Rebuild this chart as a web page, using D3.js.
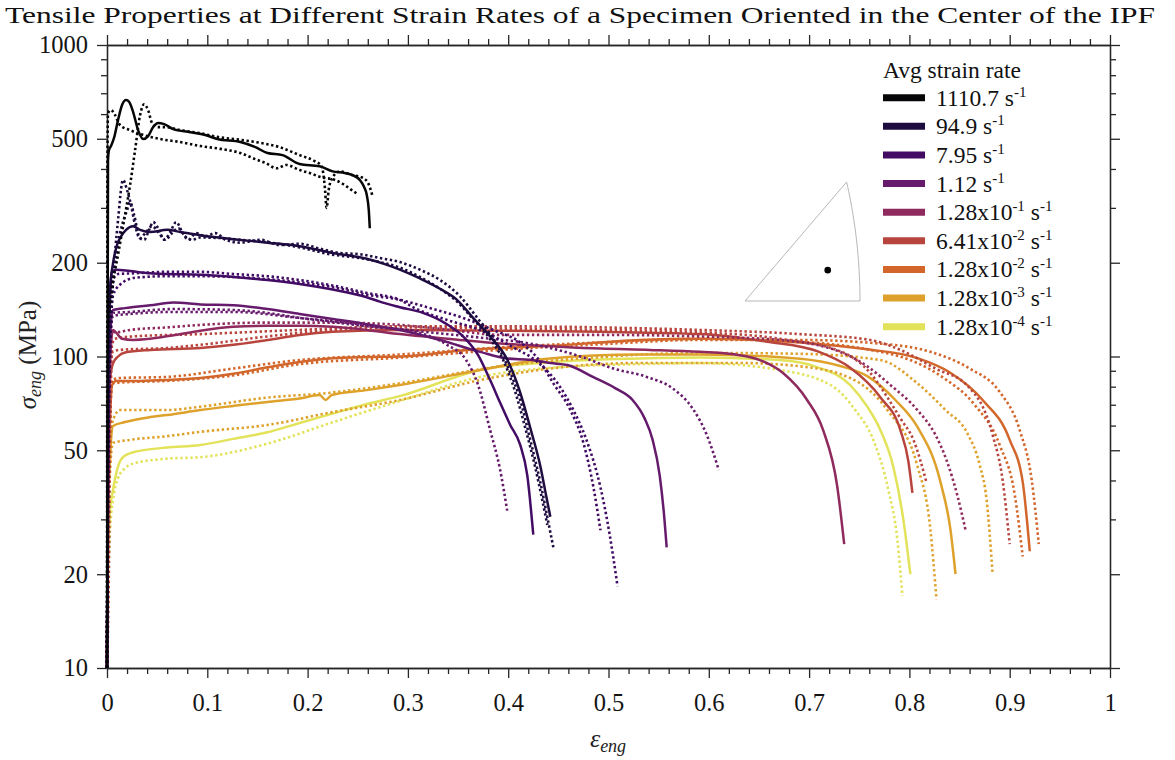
<!DOCTYPE html>
<html>
<head>
<meta charset="utf-8">
<script src="https://cdn.jsdelivr.net/npm/d3@7"></script>
<style>
  html, body { margin: 0; padding: 0; background: #fff; }
  svg { display: block; }
</style>
</head>
<body>
<svg id="chart" width="1175" height="760"></svg>
<script>
// ---- Strain-rate groups (legend order) ----
const rateMantissa = ["1110.7", "94.9", "7.95", "1.12", "1.28", "6.41", "1.28", "1.28", "1.28"];
const rateExponent = [null, null, null, null, "-1", "-2", "-2", "-3", "-4"];
const rateColors = ["#060608", "#1e0c40", "#420b64", "#661a6c", "#8f2a5e", "#b8453d", "#d2662b", "#dea22c", "#e3e35b"];

// ---- Axis ticks ----
const xMajorTicks = [0, 0.1, 0.2, 0.3, 0.4, 0.5, 0.6, 0.7, 0.8, 0.9, 1];
const yMajorTicks = [10, 20, 50, 100, 200, 500, 1000];
const yMinorTicks = [30, 40, 60, 70, 80, 90, 300, 400, 600, 700, 800, 900];

// ---- Engineering stress-strain curves, [strain, stress (MPa)] ----
// 1110.7 s^-1
const r1110_solid = [[0,10],[0.001,427],[0.002,460],[0.004,474],[0.007,503],[0.011,574],[0.015,642],[0.019,666],[0.022,657],[0.026,610],[0.031,533],[0.036,499],[0.041,510],[0.046,545],[0.051,562],[0.057,557],[0.066,537],[0.083,525],[0.098,514],[0.110,499],[0.133,488],[0.148,470],[0.160,450],[0.175,443],[0.192,415],[0.212,408],[0.225,393],[0.237,388],[0.245,382],[0.252,369],[0.256,352],[0.259,330],[0.261,295],[0.262,258]];
const r1110_testB = [[0,10],[0.0005,460],[0.001,604],[0.004,618],[0.008,596],[0.013,553],[0.023,533],[0.033,518],[0.053,499],[0.073,488],[0.093,474],[0.113,464],[0.133,450],[0.148,430],[0.158,418],[0.169,402],[0.179,412],[0.192,397],[0.202,388],[0.214,376],[0.227,369],[0.237,355],[0.244,342],[0.250,332]];
const r1110_testC = [[0,10],[0.001,122],[0.005,164],[0.011,212],[0.018,285],[0.023,355],[0.028,460],[0.033,596],[0.037,645],[0.041,618],[0.045,561],[0.051,545],[0.058,545],[0.073,533],[0.093,521],[0.110,507],[0.133,496],[0.153,485],[0.172,470],[0.192,443],[0.207,424],[0.214,408],[0.217,355],[0.219,300],[0.221,342],[0.225,376],[0.232,393],[0.245,382],[0.254,376],[0.260,362],[0.265,325]];

// 94.9 s^-1
const r949_solid = [[0,10],[0.001,72.5],[0.003,164],[0.006,199],[0.010,228],[0.013,240],[0.019,255],[0.026,262],[0.033,255],[0.043,251],[0.060,255],[0.073,251],[0.093,245],[0.126,238],[0.160,232],[0.192,226],[0.225,215],[0.259,206],[0.277,198],[0.292,190],[0.312,178],[0.332,165],[0.349,152],[0.365,133],[0.382,116],[0.399,97.8],[0.412,76.6],[0.422,59],[0.432,44.5],[0.438,35.5],[0.442,30.6]];
const r949_testB = [[0,10],[0.002,105],[0.006,176],[0.011,274],[0.016,369],[0.020,342],[0.024,306],[0.028,264],[0.032,241],[0.037,237],[0.042,255],[0.046,270],[0.051,258],[0.057,237],[0.063,251],[0.069,270],[0.075,251],[0.081,237],[0.089,249],[0.098,243],[0.108,249],[0.118,237],[0.133,232],[0.153,237],[0.172,228],[0.192,230],[0.212,222],[0.232,215],[0.252,213],[0.272,207],[0.292,201],[0.312,190],[0.332,176],[0.352,156],[0.370,132],[0.386,113],[0.400,92],[0.412,72.5],[0.422,54],[0.432,39.5],[0.439,30.5],[0.445,24.4]];
const r949_testC = [[0,10],[0.002,72.5],[0.005,152],[0.010,220],[0.015,264],[0.020,295],[0.023,313],[0.027,285],[0.033,240],[0.039,251],[0.045,262],[0.051,251],[0.058,237],[0.065,249],[0.071,258],[0.078,243],[0.085,237],[0.093,241],[0.113,240],[0.133,237],[0.163,232],[0.192,224],[0.222,213],[0.252,207],[0.272,201],[0.292,193],[0.312,180],[0.332,165],[0.349,150],[0.364,133],[0.380,116],[0.395,97.4],[0.407,77],[0.417,59],[0.427,44],[0.434,34.6],[0.439,28.8]];

// 7.95 s^-1
const r795_solid = [[0,10],[0.001,62.5],[0.003,152],[0.005,187],[0.009,190],[0.023,188],[0.043,185],[0.060,184],[0.093,183],[0.126,180],[0.160,176],[0.192,171],[0.225,164],[0.259,155],[0.272,150],[0.292,144],[0.315,138],[0.337,128],[0.355,116],[0.370,101],[0.382,84],[0.392,71],[0.402,60.3],[0.412,52],[0.419,41.6],[0.425,26.8]];
const r795_testB = [[0,10],[0.001,50],[0.003,122],[0.006,176],[0.011,184],[0.028,185],[0.060,187],[0.093,187],[0.126,184],[0.160,181],[0.192,176],[0.225,169],[0.259,160],[0.292,152],[0.305,144],[0.339,131],[0.372,121.7],[0.405,107],[0.431,95],[0.451,80.5],[0.465,67.3],[0.478,54],[0.492,38],[0.501,27],[0.509,18.3]];
const r795_testC = [[0,10],[0.001,50],[0.003,105],[0.006,157],[0.013,170],[0.028,179],[0.060,181],[0.093,181],[0.126,180],[0.160,177],[0.192,173],[0.225,167],[0.259,158],[0.292,152],[0.322,143],[0.355,133],[0.385,121.7],[0.412,111],[0.429,99],[0.445,82],[0.462,67.3],[0.475,52.8],[0.485,38],[0.492,27.7]];

// 1.12 s^-1
const r112_solid = [[0,10],[0.001,50],[0.003,113],[0.006,141],[0.018,143],[0.043,146],[0.066,149],[0.093,147],[0.126,146],[0.160,142],[0.192,137],[0.225,132],[0.259,127],[0.292,121.7],[0.332,113],[0.372,103.5],[0.399,98.5],[0.422,97.6],[0.442,95.3],[0.459,93.9],[0.485,85.8],[0.507,79],[0.524,72.5],[0.536,63.3],[0.544,54],[0.551,41.6],[0.555,32],[0.558,24.4]];
const r112_testB = [[0,10],[0.001,50],[0.003,109],[0.006,138],[0.023,139],[0.066,142],[0.126,141],[0.160,138],[0.192,133],[0.225,129],[0.259,125],[0.292,122.5],[0.322,119.5],[0.372,115],[0.422,110],[0.472,100],[0.505,91.5],[0.538,86],[0.564,79],[0.584,68],[0.598,56],[0.610,43.2]];
const r112_testC = [[0,10],[0.001,50],[0.003,109],[0.006,135],[0.023,137],[0.066,139],[0.126,139],[0.192,133],[0.242,128],[0.272,124],[0.305,120.5],[0.339,109],[0.358,97.4],[0.370,81],[0.382,58],[0.392,43.2],[0.399,32]];

// 1.28x10^-1 s^-1
const r128e1_solid = [[0,10],[0.002,62.5],[0.004,109],[0.006,121.7],[0.009,119.5],[0.015,114],[0.026,113],[0.043,114],[0.068,117.3],[0.093,121],[0.126,124.5],[0.160,125.5],[0.192,125.5],[0.225,124.5],[0.259,121.7],[0.292,118],[0.342,113.8],[0.392,110],[0.439,108],[0.492,106],[0.541,105],[0.591,103.5],[0.631,101],[0.651,97.4],[0.674,88.5],[0.698,72.5],[0.714,58],[0.728,38.4],[0.735,25]];
const r128e1_testB = [[0,10],[0.001,50],[0.003,97.4],[0.005,121.7],[0.008,119.5],[0.023,121.7],[0.060,124],[0.093,126.3],[0.160,128.5],[0.225,128.5],[0.292,126.3],[0.342,121.7],[0.392,117.3],[0.492,117.3],[0.591,116],[0.671,113],[0.731,103.5],[0.758,93],[0.781,81],[0.808,67.3],[0.826,56],[0.837,46.5],[0.848,35.6],[0.856,27.7]];

// 6.41x10^-2 s^-1
const r641e2_solid = [[0,10],[0.001,50],[0.003,84],[0.006,95],[0.011,100],[0.018,103],[0.043,105],[0.093,106.5],[0.126,109],[0.160,113],[0.192,117.3],[0.225,120],[0.292,121.7],[0.392,121],[0.492,120],[0.591,118],[0.658,111.5],[0.708,104],[0.741,92],[0.771,74],[0.791,58],[0.799,46],[0.803,36.5]];
const r641e2_testB = [[0,10],[0.001,50],[0.003,84],[0.006,104],[0.013,105],[0.060,106.5],[0.093,109],[0.160,116],[0.225,121.7],[0.292,124],[0.392,123],[0.492,121.7],[0.591,119.5],[0.671,114],[0.734,103],[0.761,88.5],[0.778,74],[0.791,63.3],[0.804,54],[0.817,39.5]];
const r641e2_testC = [[0,10],[0.002,22.2],[0.003,50],[0.004,84],[0.005,109],[0.008,114],[0.026,116],[0.093,118],[0.192,121.7],[0.292,125],[0.392,125],[0.492,124],[0.591,121.7],[0.691,118],[0.761,113],[0.791,105],[0.826,91.5],[0.858,80.5],[0.883,56],[0.893,40],[0.900,25]];

// 1.28x10^-2 s^-1
const r128e2_solid = [[0,10],[0.001,34.6],[0.003,62.5],[0.005,81],[0.009,83.5],[0.033,83.5],[0.060,84],[0.093,85.3],[0.126,88],[0.160,92.3],[0.192,96],[0.225,98.8],[0.259,99.6],[0.292,100],[0.359,105],[0.439,108],[0.531,113],[0.591,114],[0.691,111],[0.758,105.5],[0.808,98.8],[0.840,89],[0.873,72.5],[0.900,54],[0.913,39.5],[0.920,23.7]];
const r128e2_testB = [[0,10],[0.001,34.6],[0.003,62.5],[0.005,84],[0.013,85.3],[0.060,86],[0.126,91.5],[0.192,97.4],[0.292,101.5],[0.392,107],[0.492,111],[0.591,114],[0.691,111.5],[0.761,105],[0.801,97.4],[0.835,85],[0.865,70],[0.890,52],[0.905,36],[0.913,22.8]];
const r128e2_testC = [[0,10],[0.001,34.6],[0.003,62.5],[0.005,82],[0.013,82.5],[0.060,83.5],[0.126,87],[0.192,94.5],[0.292,99.2],[0.392,105],[0.492,109.5],[0.591,113],[0.691,113],[0.771,110],[0.821,103.5],[0.860,91.5],[0.890,77],[0.910,58],[0.922,40],[0.929,25]];

// 1.28x10^-3 s^-1
const r128e3_solid = [[0,10],[0.001,29.9],[0.003,46.5],[0.006,59.8],[0.018,61.6],[0.043,63.9],[0.060,64.9],[0.093,67.3],[0.126,69.4],[0.160,71.5],[0.192,73.3],[0.212,75.2],[0.218,72.5],[0.224,75.2],[0.259,78],[0.292,81],[0.372,90.5],[0.439,98.4],[0.531,101.5],[0.591,101.5],[0.691,98.4],[0.731,93.2],[0.758,86.5],[0.786,72.5],[0.808,59.4],[0.831,39.5],[0.841,27.7],[0.846,20]];
const r128e3_testB = [[0,10],[0.001,29.9],[0.003,50],[0.006,62.5],[0.013,67.3],[0.060,67.3],[0.093,69],[0.160,73.8],[0.219,76.3],[0.292,82],[0.392,93],[0.492,99.6],[0.591,102.7],[0.691,102],[0.771,97.4],[0.808,82],[0.836,67.3],[0.858,56.5],[0.870,45],[0.877,34.6],[0.883,20]];
const r128e3_testC = [[0,10],[0.001,25.7],[0.003,43.2],[0.006,52.8],[0.023,54],[0.060,55.5],[0.093,57.3],[0.160,60.3],[0.225,66.3],[0.292,72.5],[0.372,84],[0.442,91.5],[0.531,95.3],[0.631,95.3],[0.691,93],[0.741,85.3],[0.778,67.3],[0.808,44.5],[0.821,27.7],[0.827,16.6]];

// 1.28x10^-4 s^-1
const r128e4_solid = [[0,10],[0.001,22.2],[0.003,32.1],[0.006,37.3],[0.010,43.2],[0.015,47.2],[0.026,49.3],[0.060,51],[0.093,52],[0.126,54.4],[0.160,57.1],[0.192,61.2],[0.225,65.6],[0.259,70.4],[0.292,74.6],[0.372,90.5],[0.455,96.5],[0.531,98.5],[0.591,99.2],[0.671,97.4],[0.708,92.5],[0.741,81],[0.758,69],[0.771,58.1],[0.784,44.2],[0.794,29.9],[0.801,20]];
const r128e4_testB = [[0,10],[0.001,16.5],[0.003,27.7],[0.006,34.6],[0.011,40.7],[0.018,43.8],[0.026,45.3],[0.060,47],[0.093,47.5],[0.160,52.5],[0.225,61.5],[0.292,72],[0.372,86],[0.452,92.5],[0.531,94.5],[0.591,95.2],[0.671,90.5],[0.724,80],[0.746,67.3],[0.764,54],[0.779,37.3],[0.788,25.8],[0.793,17]];

// One entry per test: strain-rate group index, line style, curve
const tests = [
  { rate: 0, dotted: false, values: r1110_solid },
  { rate: 0, dotted: true,  values: r1110_testB },
  { rate: 0, dotted: true,  values: r1110_testC },
  { rate: 1, dotted: false, values: r949_solid },
  { rate: 1, dotted: true,  values: r949_testB },
  { rate: 1, dotted: true,  values: r949_testC },
  { rate: 2, dotted: false, values: r795_solid },
  { rate: 2, dotted: true,  values: r795_testB },
  { rate: 2, dotted: true,  values: r795_testC },
  { rate: 3, dotted: false, values: r112_solid },
  { rate: 3, dotted: true,  values: r112_testB },
  { rate: 3, dotted: true,  values: r112_testC },
  { rate: 4, dotted: false, values: r128e1_solid },
  { rate: 4, dotted: true,  values: r128e1_testB },
  { rate: 5, dotted: false, values: r641e2_solid },
  { rate: 5, dotted: true,  values: r641e2_testB },
  { rate: 5, dotted: true,  values: r641e2_testC },
  { rate: 6, dotted: false, values: r128e2_solid },
  { rate: 6, dotted: true,  values: r128e2_testB },
  { rate: 6, dotted: true,  values: r128e2_testC },
  { rate: 7, dotted: false, values: r128e3_solid },
  { rate: 7, dotted: true,  values: r128e3_testB },
  { rate: 7, dotted: true,  values: r128e3_testC },
  { rate: 8, dotted: false, values: r128e4_solid },
  { rate: 8, dotted: true,  values: r128e4_testB }
];

// Inverse pole figure inset: standard triangle corners and specimen direction
const ipfCorners = [[0, 0, 1], [1, 0, 1], [1, 1, 1]];
const specimenDirection = [0.543, 0.173, 0.822];

// ---- Layout ----
const svg = d3.select("#chart");
const serif = "'Liberation Serif', 'Times New Roman', serif";
const axisColor = "#262626";

const x = d3.scaleLinear().domain([0, 1]).range([107, 1110]);
const y = d3.scaleLog().domain([10, 1000]).range([668, 45]);

const xMinorTicks = d3.range(0, 1.0001, 0.02).filter(v => Math.abs(v * 10 - Math.round(v * 10)) > 1e-6);

function styleAxis(g) {
  g.select(".domain").attr("stroke", axisColor).attr("stroke-width", 1.3);
  g.selectAll(".tick line").attr("stroke", axisColor).attr("stroke-width", 1.3);
  g.selectAll(".tick text").attr("font-family", serif).attr("font-size", 24.5).attr("fill", "#141414");
}

// Title
svg.append("text")
  .attr("x", 5).attr("y", 23)
  .attr("font-family", serif).attr("font-size", 24).attr("fill", "#111")
  .attr("textLength", 1150).attr("lengthAdjust", "spacingAndGlyphs")
  .text("Tensile Properties at Different Strain Rates of a Specimen Oriented in the Center of the IPF");

// Axes (ticks outward on all four sides)
svg.append("g").attr("transform", "translate(0,668)")
  .call(d3.axisBottom(x).tickValues(xMajorTicks).tickFormat(d => String(d)).tickSize(10).tickSizeOuter(0).tickPadding(16))
  .call(styleAxis);
svg.append("g").attr("transform", "translate(0,668)")
  .call(d3.axisBottom(x).tickValues(xMinorTicks).tickFormat("").tickSize(6).tickSizeOuter(0))
  .call(styleAxis);
svg.append("g").attr("transform", "translate(0,45)")
  .call(d3.axisTop(x).tickValues(xMajorTicks).tickFormat("").tickSize(10).tickSizeOuter(0))
  .call(styleAxis);
svg.append("g").attr("transform", "translate(0,45)")
  .call(d3.axisTop(x).tickValues(xMinorTicks).tickFormat("").tickSize(6).tickSizeOuter(0))
  .call(styleAxis);
svg.append("g").attr("transform", "translate(107,0)")
  .call(d3.axisLeft(y).tickValues(yMajorTicks).tickFormat(d => String(d)).tickSize(10).tickSizeOuter(0).tickPadding(9))
  .call(styleAxis);
svg.append("g").attr("transform", "translate(107,0)")
  .call(d3.axisLeft(y).tickValues(yMinorTicks).tickFormat("").tickSize(6).tickSizeOuter(0))
  .call(styleAxis);
svg.append("g").attr("transform", "translate(1110,0)")
  .call(d3.axisRight(y).tickValues(yMajorTicks).tickFormat("").tickSize(10).tickSizeOuter(0))
  .call(styleAxis);
svg.append("g").attr("transform", "translate(1110,0)")
  .call(d3.axisRight(y).tickValues(yMinorTicks).tickFormat("").tickSize(6).tickSizeOuter(0))
  .call(styleAxis);

// Axis labels
const xLabel = svg.append("text")
  .attr("x", 608).attr("y", 747).attr("text-anchor", "middle")
  .attr("font-family", serif).attr("font-size", 26).attr("fill", "#222");
xLabel.append("tspan").attr("font-style", "italic").text("ε");
xLabel.append("tspan").attr("font-style", "italic").attr("font-size", 18).attr("dy", 5).text("eng");

const yLabel = svg.append("text")
  .attr("transform", "translate(36,355) rotate(-90)").attr("text-anchor", "middle")
  .attr("font-family", serif).attr("font-size", 25).attr("fill", "#222");
yLabel.append("tspan").attr("font-style", "italic").text("σ");
yLabel.append("tspan").attr("font-style", "italic").attr("font-size", 18).attr("dy", 5).text("eng");
yLabel.append("tspan").attr("dy", -5).text(" (MPa)");

// Curves: slowest rate drawn first so the darker curves sit on top
const line = d3.line()
  .x(d => x(d[0]))
  .y(d => y(d[1]))
  .curve(d3.curveMonotoneX);

const ordered = tests.slice().sort((a, b) => (b.rate - a.rate) || (b.dotted - a.dotted));
svg.append("g").attr("fill", "none")
  .selectAll("path")
  .data(ordered)
  .join("path")
  .attr("d", d => line(d.values))
  .attr("stroke", d => rateColors[d.rate])
  .attr("stroke-width", d => d.dotted ? 2.6 : 2.5)
  .attr("stroke-dasharray", d => d.dotted ? "2.4,2.6" : null)
  .attr("stroke-linejoin", "round");

// Inverse pole figure inset (stereographic projection)
const stereo = v => {
  const n = Math.hypot(v[0], v[1], v[2]);
  return [v[0] / n / (1 + v[2] / n), v[1] / n / (1 + v[2] / n)];
};
const ipfX = d3.scaleLinear().domain([0, stereo(ipfCorners[1])[0]]).range([745, 860]);
const ipfY = d3.scaleLinear().domain([0, stereo(ipfCorners[2])[1]]).range([301, 182]);
const arc = d3.range(0, 1.0001, 0.05).map(t => stereo([1, t, 1]));
const outline = [stereo(ipfCorners[0]), ...arc, stereo(ipfCorners[0])];
svg.append("path")
  .attr("d", d3.line().x(p => ipfX(p[0])).y(p => ipfY(p[1]))(outline))
  .attr("fill", "none").attr("stroke", "#b8b8b8").attr("stroke-width", 1);
const sp = stereo(specimenDirection);
svg.append("circle").attr("cx", ipfX(sp[0])).attr("cy", ipfY(sp[1])).attr("r", 3.3).attr("fill", "#000");

// Legend
const legend = svg.append("g").attr("font-family", serif).attr("fill", "#111");
legend.append("text").attr("x", 883).attr("y", 78).attr("font-size", 23.5).text("Avg strain rate");
const rowY = i => 97.7 + i * 28.62;
rateMantissa.forEach((m, i) => {
  legend.append("line")
    .attr("x1", 883).attr("x2", 925).attr("y1", rowY(i)).attr("y2", rowY(i))
    .attr("stroke", rateColors[i]).attr("stroke-width", 7);
  const t = legend.append("text").attr("x", 936).attr("y", rowY(i) + 8).attr("font-size", 23.5);
  t.append("tspan").text(m);
  if (rateExponent[i]) {
    t.append("tspan").text("x10");
    t.append("tspan").attr("font-size", 15).attr("dy", -9).text(rateExponent[i]);
    t.append("tspan").attr("dy", 9).text(" s");
  } else {
    t.append("tspan").text(" s");
  }
  t.append("tspan").attr("font-size", 15).attr("dy", -9).text("-1");
});
</script>
</body>
</html>
